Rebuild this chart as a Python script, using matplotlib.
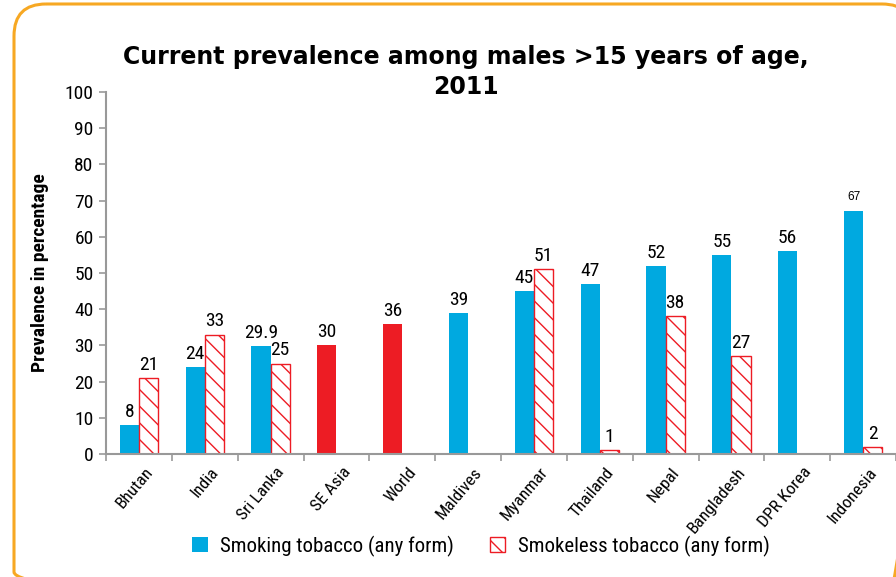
import numpy as np
import matplotlib
matplotlib.use("Agg")
import matplotlib.pyplot as plt
from matplotlib.patches import Patch, FancyBboxPatch

countries = ["Bhutan", "India", "Sri Lanka", "SE Asia", "World", "Maldives",
             "Myanmar", "Thailand", "Nepal", "Bangladesh", "DPR Korea", "Indonesia"]
smoking = [8, 24, 29.9, 30, 36, 39, 45, 47, 52, 55, 56, 67]
smoking_labels = ["8", "24", "29.9", "30", "36", "39", "45", "47", "52", "55", "56", "67"]
smokeless = [21, 33, 25, np.nan, np.nan, np.nan, 51, 1, 38, 27, np.nan, 2]
smokeless_labels = ["21", "33", "25", "", "", "", "51", "1", "38", "27", "", "2"]
highlight = ["SE Asia", "World"]

BLUE = "#00a9e0"
RED = "#ed1c24"
NARROW = ["Roboto Condensed", "Archivo Narrow", "Liberation Sans Narrow", "Liberation Sans"]

plt.rcParams["hatch.color"] = RED
plt.rcParams["hatch.linewidth"] = 1.0

fig = plt.figure(figsize=(8.96, 5.77), dpi=100)

# orange rounded frame, drawn in pixel coordinates
bg = fig.add_axes([0, 0, 1, 1], zorder=-1)
bg.set_xlim(0, 896)
bg.set_ylim(577, 0)
bg.axis("off")
bg.add_patch(FancyBboxPatch((14, 4), 900, 600, boxstyle="round,pad=0,rounding_size=32",
                            fill=False, edgecolor="#f7a823", linewidth=2.2))

ax = fig.add_axes([106 / 896, 1 - 454 / 577, 790 / 896, 362 / 577])

x = np.arange(len(countries))
w = 0.29
colors = [RED if c in highlight else BLUE for c in countries]
ax.bar(x - w / 2, smoking, w, color=colors, edgecolor="none")
ax.bar(x + w / 2, smokeless, w, color="white", edgecolor=RED,
       hatch="\\\\", linewidth=1.0)

for i, (v, lab) in enumerate(zip(smoking, smoking_labels)):
    if lab == "67":
        ax.annotate(lab, (x[i] - w / 2, v), xytext=(0, 6), textcoords="offset points",
                    ha="center", va="bottom", fontsize=8.5, family="Liberation Sans")
    else:
        ax.annotate(lab, (x[i] - w / 2, v), xytext=(0, 3), textcoords="offset points",
                    ha="center", va="bottom", fontsize=14, family=NARROW)
for i, (v, lab) in enumerate(zip(smokeless, smokeless_labels)):
    if lab:
        ax.annotate(lab, (x[i] + w / 2, v), xytext=(0, 3), textcoords="offset points",
                    ha="center", va="bottom", fontsize=14, family=NARROW)

ax.set_xlim(-0.5, len(countries) - 0.5)
ax.set_ylim(0, 100)
ax.set_yticks(np.arange(0, 101, 10))
ax.set_yticklabels([str(t) for t in range(0, 101, 10)], family=NARROW, fontsize=14)
ax.set_xticks(np.arange(-0.5, len(countries), 1))
ax.set_xticklabels([])
ax.tick_params(axis="both", direction="out", length=5, color="#999999", width=1.2)
ax.tick_params(axis="y", pad=4)
for s in ["top", "right"]:
    ax.spines[s].set_visible(False)
for s in ["left", "bottom"]:
    ax.spines[s].set_color("#999999")
    ax.spines[s].set_linewidth(1.5)

for i, c in enumerate(countries):
    ax.text(x[i] + 0.17, -4.3, c, rotation=50, rotation_mode="anchor",
            ha="right", va="center", fontsize=12.5, family=NARROW, clip_on=False)

ax.set_ylabel("Prevalence in percentage", family=NARROW, fontsize=14,
              fontweight="bold", labelpad=11)

fig.text(466 / 896, 1 - 72 / 577, "Current prevalence among males >15 years of age,\n2011",
         ha="center", va="center", fontsize=17, fontweight="bold",
         family="DejaVu Sans", linespacing=1.3)

handles = [Patch(facecolor=BLUE, edgecolor="none", label="Smoking tobacco (any form)"),
           Patch(facecolor="white", edgecolor=RED, hatch="\\\\",
                 label="Smokeless tobacco (any form)")]
fig.legend(handles=handles, loc="center", bbox_to_anchor=(481 / 896, 1 - 546 / 577),
           ncol=2, frameon=False, handlelength=0.75, handleheight=0.75,
           columnspacing=1.7, handletextpad=0.6, prop={"family": NARROW, "size": 15})

fig.savefig("out.png", dpi=100)
